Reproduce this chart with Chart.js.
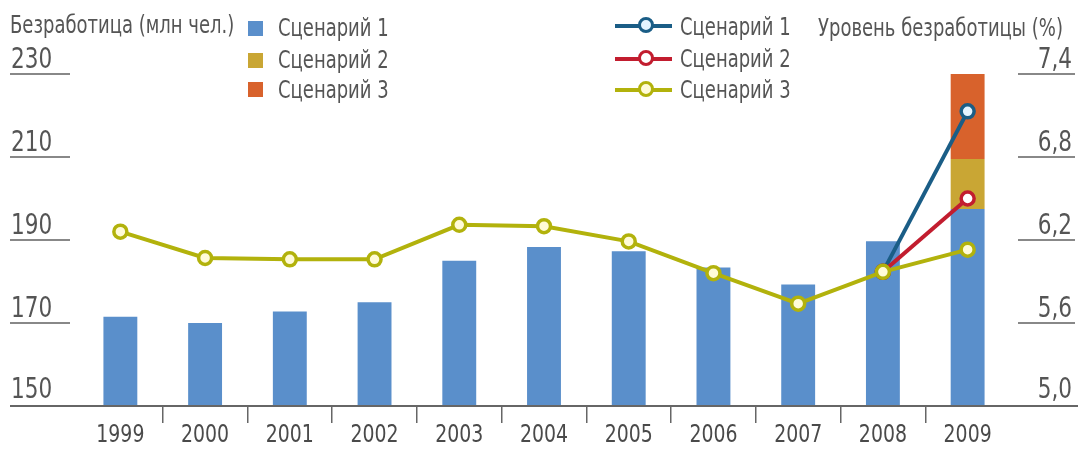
<!DOCTYPE html>
<html lang="ru">
<head>
<meta charset="utf-8">
<script src="https://cdn.jsdelivr.net/npm/chart.js@4.4.1/dist/chart.umd.min.js"></script>
<style>
  body { margin: 0; background: #fff; }
  #wrap {
    position: relative; width: 1078px; height: 452px; overflow: hidden;
    font-family: 'Liberation Sans Narrow', 'DejaVu Sans Condensed', 'Liberation Sans', sans-serif;
    color: #555;
  }
  #myChart { position: absolute; left: 0; top: 0; }
  .lbl {
    position: absolute; font-size: 20px; line-height: 20px; white-space: nowrap;
    transform: scaleY(1.2); transform-origin: 0 50%;
  }
  .sq { position: absolute; width: 15px; height: 15px; }
  .ln { position: absolute; width: 57px; height: 4px; }
  .dot { position: absolute; width: 10px; height: 10px; border-radius: 50%; border: 3.5px solid; }
</style>
</head>
<body>
<div id="wrap">
  <canvas id="myChart" width="1078" height="452"></canvas>

  <div class="lbl" style="left:10px; top:15px;">Безработица (млн чел.)</div>
  <div class="sq" style="left:248px; top:21px; background:#5a8fcb;"></div>
  <div class="lbl" style="left:278px; top:18px;">Сценарий 1</div>
  <div class="sq" style="left:248px; top:53px; background:#c9a634;"></div>
  <div class="lbl" style="left:278px; top:50px;">Сценарий 2</div>
  <div class="sq" style="left:248px; top:82px; background:#d8622c;"></div>
  <div class="lbl" style="left:278px; top:80px;">Сценарий 3</div>

  <div class="ln" style="left:615px; top:24px; background:#1a5d86;"></div>
  <div class="dot" style="left:638px; top:17px; border-color:#1a5d86; background:#e4f4ff;"></div>
  <div class="lbl" style="left:680px; top:17px;">Сценарий 1</div>
  <div class="ln" style="left:615px; top:57px; background:#c21d2f;"></div>
  <div class="dot" style="left:638px; top:50px; border-color:#c21d2f; background:#fff;"></div>
  <div class="lbl" style="left:680px; top:49px;">Сценарий 2</div>
  <div class="ln" style="left:615px; top:88px; background:#b2b20c;"></div>
  <div class="dot" style="left:638px; top:81px; border-color:#b2b20c; background:#fffbd8;"></div>
  <div class="lbl" style="left:680px; top:80px;">Сценарий 3</div>

  <div class="lbl" style="left:818px; top:18px;">Уровень безработицы (%)</div>
</div>

<script>
// years
const years = ['1999', '2000', '2001', '2002', '2003', '2004', '2005', '2006', '2007', '2008', '2009'];

// unemployment, mln people (bars); 2009 stacked by scenario
const unemployedS1 = [171.5, 170, 172.8, 175, 185, 188.3, 187.3, 183.4, 179.3, 189.7, 197.5];
const unemployedS2 = [null, null, null, null, null, null, null, null, null, null, 12];
const unemployedS3 = [null, null, null, null, null, null, null, null, null, null, 20.5];

// unemployment rate, % (lines)
const rateS1 = [null, null, null, null, null, null, null, null, null, 5.97, 7.13];
const rateS2 = [null, null, null, null, null, null, null, null, null, 5.97, 6.5];
const rateS3 = [6.26, 6.07, 6.06, 6.06, 6.31, 6.3, 6.19, 5.96, 5.74, 5.97, 6.13];

// axis ticks
const leftTicks = [150, 170, 190, 210, 230];
const rightTicks = [5.0, 5.6, 6.2, 6.8, 7.4];

const fontFamily = "'Liberation Sans Narrow', 'DejaVu Sans Condensed', 'Liberation Sans', sans-serif";

function lineDataset(label, data, color, fill, order) {
  return {
    type: 'line',
    label: label,
    data: data,
    yAxisID: 'y1',
    borderColor: color,
    borderWidth: 4,
    pointRadius: 6.5,
    pointBorderWidth: 3.5,
    pointBorderColor: color,
    pointBackgroundColor: fill,
    spanGaps: false,
    order: order,
  };
}

// tall narrow text, like the print font
function tallText(ctx, text, x, y, align) {
  ctx.save();
  ctx.translate(x, y);
  ctx.scale(1, 1.2);
  ctx.textAlign = align;
  ctx.textBaseline = 'alphabetic';
  ctx.fillText(text, 0, 0);
  ctx.restore();
}

// axis labels sit above short underlines, placed with the scales
const axisLabels = {
  id: 'axisLabels',
  afterDraw(chart) {
    const ctx = chart.ctx;
    const area = chart.chartArea;
    const x = chart.scales.x;
    const yL = chart.scales.y;
    const yR = chart.scales.y1;
    ctx.save();
    ctx.fillStyle = '#555';
    ctx.font = '24px ' + fontFamily;

    leftTicks.forEach((v, i) => {
      const py = yL.getPixelForValue(v);
      tallText(ctx, String(v), 11, py - (i === 0 ? 8 : 6), 'left');
      if (i > 0) {
        ctx.strokeStyle = '#888';
        ctx.lineWidth = 2;
        ctx.beginPath();
        ctx.moveTo(10, py);
        ctx.lineTo(70, py);
        ctx.stroke();
      }
    });

    rightTicks.forEach((v, i) => {
      const py = yR.getPixelForValue(v);
      tallText(ctx, v.toFixed(1).replace('.', ','), 1072, py - (i === 0 ? 8 : 6), 'right');
      if (i > 0) {
        ctx.strokeStyle = '#888';
        ctx.lineWidth = 2;
        ctx.beginPath();
        ctx.moveTo(1018, py);
        ctx.lineTo(1075, py);
        ctx.stroke();
      }
    });

    // category labels
    ctx.fillStyle = '#4a4a4a';
    ctx.font = '21px ' + fontFamily;
    years.forEach((y, i) => {
      tallText(ctx, y, x.getPixelForValue(i), 442, 'center');
    });

    // baseline
    ctx.strokeStyle = '#666';
    ctx.lineWidth = 2;
    ctx.beginPath();
    ctx.moveTo(10, area.bottom);
    ctx.lineTo(1078, area.bottom);
    ctx.stroke();
    ctx.restore();
  },
};

const ctx = document.getElementById('myChart').getContext('2d');
const chart = new Chart(ctx, {
  data: {
    labels: years,
    datasets: [
      lineDataset('Сценарий 3', rateS3, '#b2b20c', '#fffbd8', 0),
      lineDataset('Сценарий 2', rateS2, '#c21d2f', '#ffffff', 1),
      lineDataset('Сценарий 1', rateS1, '#1a5d86', '#e4f4ff', 2),
      { type: 'bar', label: 'Сценарий 1', data: unemployedS1, backgroundColor: '#5a8fcb', yAxisID: 'y', order: 5 },
      { type: 'bar', label: 'Сценарий 2', data: unemployedS2, backgroundColor: '#c9a634', yAxisID: 'y', order: 5 },
      { type: 'bar', label: 'Сценарий 3', data: unemployedS3, backgroundColor: '#d8622c', yAxisID: 'y', order: 5 },
    ],
  },
  options: {
    responsive: false,
    animation: false,
    datasets: {
      bar: { barPercentage: 0.4, categoryPercentage: 1 },
    },
    layout: {
      padding: { left: 78, right: 68, top: 74, bottom: 0 },
    },
    plugins: {
      legend: { display: false },
      tooltip: { enabled: false },
    },
    scales: {
      x: {
        stacked: true,
        offset: true,
        border: { display: false },
        grid: {
          offset: true,
          drawOnChartArea: false,
          tickLength: 17,
          lineWidth: 1.5,
          color: (c) => (c.type !== 'tick' || c.index === 0 ? 'rgba(0,0,0,0)' : '#666'),
        },
        ticks: { display: false },
        afterFit: (scale) => {
          scale.height = 46;
        },
      },
      y: {
        display: false,
        stacked: true,
        min: 150,
        max: 230,
      },
      y1: {
        display: false,
        position: 'right',
        min: 5.0,
        max: 7.4,
      },
    },
  },
  plugins: [axisLabels],
});
</script>
</body>
</html>
